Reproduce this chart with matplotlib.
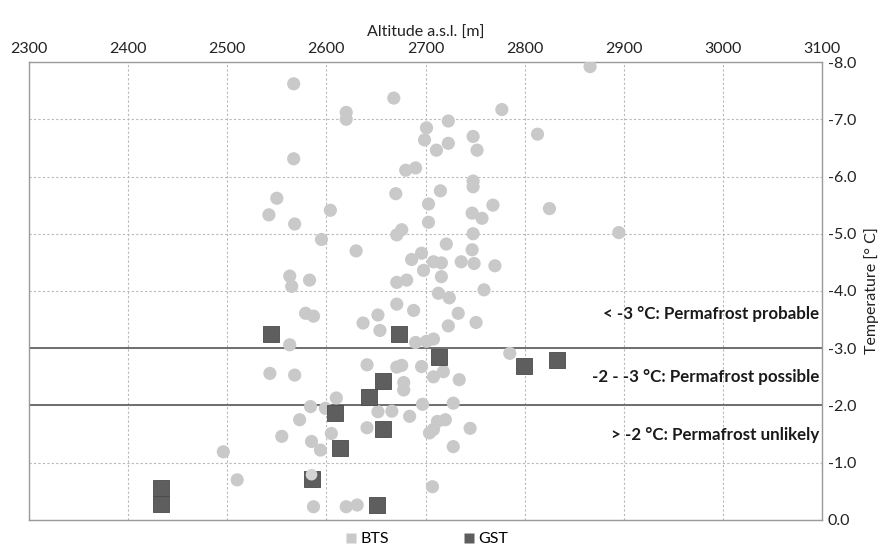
import matplotlib.pyplot as plt
from matplotlib.lines import Line2D
from matplotlib.ticker import MultipleLocator

plt.rcParams['font.family'] = ['Lato', 'DejaVu Sans']

# BTS measurements: altitude [m], temperature [deg C]
bts_alt = [2567, 2668, 2620, 2620, 2866, 2777, 2723, 2701, 2699, 2711, 2723, 2748,
           2752, 2813, 2567, 2680, 2690, 2550, 2542, 2568, 2604, 2670, 2715, 2703,
           2703, 2748, 2748, 2768, 2825, 2747, 2757, 2895, 2676, 2671, 2595, 2630,
           2748, 2721, 2747, 2686, 2696, 2708, 2716, 2736, 2749, 2770, 2698, 2563,
           2565, 2583, 2671, 2681, 2716, 2713, 2724, 2759, 2579, 2587, 2637, 2652,
           2654, 2671, 2688, 2723, 2733, 2751, 2701, 2708, 2563, 2543, 2568, 2641,
           2671, 2696, 2708, 2718, 2734, 2678, 2785, 2678, 2610, 2584, 2573, 2555,
           2585, 2594, 2605, 2652, 2666, 2684, 2641, 2697, 2708, 2712, 2720, 2728,
           2728, 2745, 2704, 2496, 2510, 2587, 2620, 2631, 2707, 2599, 2676, 2690]
bts_temp = [-7.62, -7.37, -7.12, -7.00, -7.92, -7.17, -6.97, -6.85, -6.64, -6.46, -6.58, -6.70,
            -6.46, -6.74, -6.31, -6.11, -6.15, -5.62, -5.33, -5.17, -5.41, -5.70, -5.75, -5.52,
            -5.20, -5.82, -5.92, -5.50, -5.44, -5.36, -5.27, -5.02, -5.07, -4.98, -4.90, -4.70,
            -5.00, -4.82, -4.72, -4.55, -4.66, -4.51, -4.49, -4.51, -4.48, -4.44, -4.36, -4.26,
            -4.08, -4.19, -4.15, -4.19, -4.25, -3.96, -3.88, -4.02, -3.61, -3.56, -3.44, -3.58,
            -3.31, -3.77, -3.66, -3.39, -3.61, -3.45, -3.12, -3.16, -3.06, -2.56, -2.53, -2.71,
            -2.67, -2.68, -2.50, -2.59, -2.45, -2.40, -2.91, -2.27, -2.13, -1.98, -1.75, -1.46,
            -1.37, -1.22, -1.51, -1.89, -1.90, -1.81, -1.61, -2.02, -1.58, -1.72, -1.75, -1.28,
            -2.04, -1.60, -1.52, -1.19, -0.70, -0.23, -0.23, -0.26, -0.58, -1.95, -2.70, -3.10]

# GST measurements
gst_alt = [2544, 2673, 2714, 2799, 2833, 2657, 2643, 2609, 2657, 2614, 2585, 2433, 2433, 2651]
gst_temp = [-3.25, -3.25, -2.85, -2.69, -2.79, -2.42, -2.15, -1.87, -1.58, -1.25, -0.71,
            -0.56, -0.27, -0.26]

# single BTS point drawn on top of a GST square
bts_top_alt = [2585]
bts_top_temp = [-0.79]

thresholds = [-3, -2]
zone_labels = ['< -3 °C: Permafrost probable',
               '-2 - -3 °C: Permafrost possible',
               '> -2 °C: Permafrost unlikely']
zone_y = [-3.6, -2.5, -1.48]

bts_color = '#c9c9c9'
gst_color = '#5e5e5e'

fig = plt.figure(figsize=(8.93, 5.49), dpi=100)
ax = fig.add_axes([0.0325, 0.053, 0.888, 0.834])

ax.scatter(bts_alt, bts_temp, s=90, marker='o', color=bts_color, edgecolors='none',
           zorder=3)
ax.scatter(gst_alt, gst_temp, s=140, marker='s', color=gst_color, edgecolors='#4a4a4a',
           linewidths=0.6, zorder=4)
ax.scatter(bts_top_alt, bts_top_temp, s=70, marker='o', color='#d4d4d4',
           edgecolors='none', zorder=5)

for t in thresholds:
    ax.axhline(t, color='#6e6e6e', linewidth=1.4, zorder=2)

for lab, yy in zip(zone_labels, zone_y):
    ax.text(3097, yy, lab, ha='right', va='center', fontsize=12.2,
            fontweight='bold', color='#1a1a1a', zorder=6)

ax.set_xlim(2300, 3100)
ax.set_ylim(0, -8)
ax.xaxis.set_major_locator(MultipleLocator(100))
ax.xaxis.tick_top()
ax.xaxis.set_label_position('top')
ax.yaxis.tick_right()
ax.yaxis.set_label_position('right')
ax.tick_params(length=0, labelsize=11.5, colors='#222222', pad=4)
ax.set_yticks(range(0, -9, -1))
ax.set_yticklabels(['0.0'] + ['%.1f' % v for v in range(-1, -9, -1)])

ax.grid(True, color='#b8b8b8', linestyle=(0, (2, 2)), linewidth=0.8, zorder=1)
for sp in ax.spines.values():
    sp.set_color('#9a9a9a')
    sp.set_linewidth(1.0)

ax.set_xlabel('Altitude a.s.l. [m]', fontsize=11.5, color='#222222', labelpad=4)
ax.set_ylabel('Temperature [° C]', fontsize=11.5, color='#222222', labelpad=6)

handles = [Line2D([], [], linestyle='none', marker='s', markersize=7,
                  markerfacecolor=bts_color, markeredgecolor='none'),
           Line2D([], [], linestyle='none', marker='s', markersize=7,
                  markerfacecolor=gst_color, markeredgecolor='none')]
ax.legend(handles, ['BTS', 'GST'], loc='upper center', bbox_to_anchor=(0.5, -0.02),
          ncol=2, frameon=False, fontsize=11.5, handletextpad=0.1, columnspacing=4.5,
          handlelength=1.0, borderaxespad=0.1, borderpad=0.1)

fig.savefig('out.png', dpi=100)
